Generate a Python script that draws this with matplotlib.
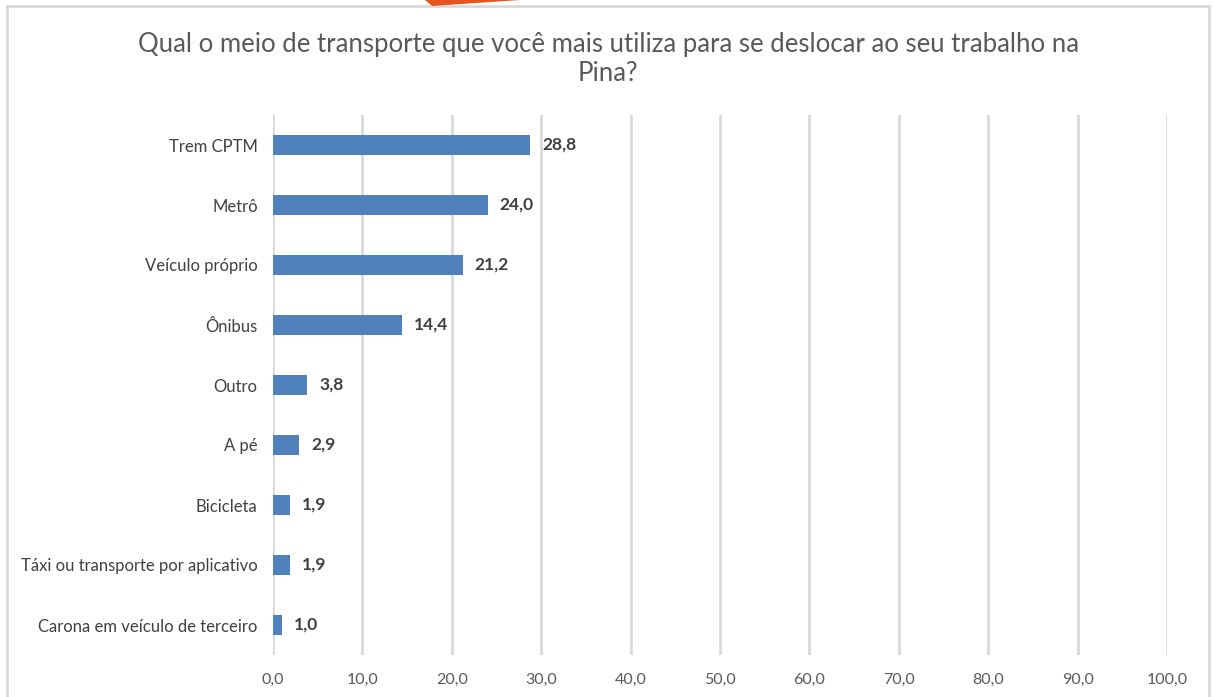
import matplotlib.pyplot as plt
from matplotlib.patches import Polygon, Rectangle

categories = ["Trem CPTM", "Metrô", "Veículo próprio", "Ônibus", "Outro",
              "A pé", "Bicicleta", "Táxi ou transporte por aplicativo",
              "Carona em veículo de terceiro"]
values = [28.8, 24.0, 21.2, 14.4, 3.8, 2.9, 1.9, 1.9, 1.0]
xticks = [0, 10, 20, 30, 40, 50, 60, 70, 80, 90, 100]
title = "Qual o meio de transporte que você mais utiliza para se deslocar ao seu trabalho na\nPina?"

plt.rcParams['font.family'] = ['Lato', 'DejaVu Sans']

fig = plt.figure(figsize=(12.14, 6.97), dpi=100)
W, H = 1214, 697

# chart border
fig.patches.append(Rectangle((7 / W, -0.01), (1209 - 7) / W, 1.01 - 6 / H,
                             transform=fig.transFigure, fill=False,
                             edgecolor='#d9d9d9', linewidth=2))
# decorative orange shape at top
fig.patches.append(Polygon([(425 / W, 1.0), (432 / W, 1 - 6 / H), (520 / W, 1.0)],
                           closed=True, transform=fig.transFigure,
                           facecolor='#e8541e', edgecolor='none'))

ax = fig.add_axes([273 / W, 1 - 655 / H, (1167 - 273) / W, (655 - 115) / H])
y = list(range(len(categories)))
ax.barh(y, values, height=0.33, color='#4F81BD', zorder=3)
ax.set_ylim(len(categories) - 0.5, -0.5)
ax.set_xlim(0, 100)
ax.set_yticks(y)
ax.set_yticklabels(categories, fontsize=12, color='#404040')
ax.set_xticks(xticks)
ax.set_xticklabels([f"{t:.1f}".replace('.', ',') for t in xticks], fontsize=11.5, color='#595959')
ax.tick_params(axis='both', length=0)
ax.tick_params(axis='y', pad=11)
ax.tick_params(axis='x', pad=13)
ax.grid(axis='x', color='#d9d9d9', linewidth=2, zorder=0)
for s in ax.spines.values():
    s.set_visible(False)

for yi, v in zip(y, values):
    ax.text(v + 1.35, yi, f"{v:.1f}".replace('.', ','), va='center', ha='left',
            fontsize=12.5, fontweight='bold', color='#404040')

fig.text(608 / W, 1 - 59 / H, title, ha='center', va='center', fontsize=18.5,
         color='#595959', linespacing=1.2)

fig.savefig('out.png', dpi=100)
